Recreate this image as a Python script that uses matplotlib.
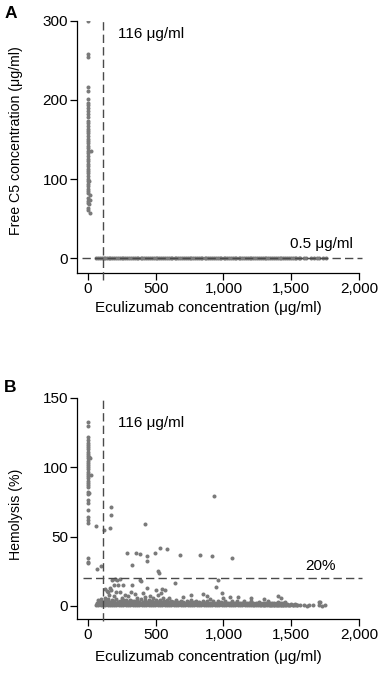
import matplotlib
matplotlib.use("Agg")
import matplotlib.pyplot as plt

plt.rcParams['font.family'] = ['Liberation Sans', 'DejaVu Sans']

# ---------------- data ----------------
# Panel A: free C5 vs eculizumab
a_col_x = [0, 0, 0, 0, 0, 0, 0, 0, 0, 0, 0, 0, 0, 0, 0, 0, 0, 0, 0, 0, 0, 0, 0, 0,
           0, 0, 0, 0, 0, 0, 0, 0, 0, 0, 0, 0, 0, 0, 0, 0, 0, 0, 0, 0, 0, 0, 0,
           22, 12, 18, 8, 20, 14]
a_col_y = [300, 257.8, 253.6, 216.5, 211.4, 200.8, 196.6, 193.2, 190.3, 186.1, 181.9,
           178.9, 173.4, 170.5, 167.1, 163.7, 160.8, 157.8, 154.4, 151.1, 148.1, 145.1,
           141.8, 138.8, 135.4, 132.5, 129.1, 125.7, 122.8, 119.8, 116.5, 113.1, 110.1,
           107.2, 103.8, 100.4, 97.5, 94.5, 91.1, 88.2, 84.8, 82.7, 76.4, 72.2, 63.7,
           60.8, 70.5,
           136, 98, 80, 69, 57.4, 74]
a_band_x = [60, 74, 91, 104, 119, 131, 143, 156, 167, 182, 194, 209, 221, 235, 251, 263,
            276, 291, 304, 319, 332, 347, 361, 373, 389, 400, 416, 429, 445, 456, 471,
            485, 501, 511, 528, 539, 557, 569, 584, 596, 611, 624, 641, 651, 668, 679,
            695, 707, 723, 735, 751, 762, 779, 789, 806, 819, 834, 845, 861, 874, 889,
            901, 916, 929, 945, 956, 973, 984, 1001, 1012, 1028, 1040, 1056, 1067, 1083,
            1095, 1111, 1123, 1138, 1149, 1166, 1177, 1193, 1205, 1221, 1232, 1248, 1260,
            1276, 1289, 1303, 1315, 1331, 1343, 1359, 1371, 1386, 1399, 1414, 1426, 1442,
            1454, 1471, 1482, 1498, 1509, 1525, 1537, 1553, 1566, 1592, 1611, 1641, 1664,
            1688, 1706, 1731, 1757]
a_band_y = [0.2, 0.1, 0.3, 0.2, 0.1, 0.3, 0.2, 0.2, 0.1, 0.3, 0.2, 0.1, 0.2, 0.3, 0.2,
            0.1, 0.2, 0.3, 0.1, 0.2, 0.2, 0.3, 0.1, 0.2, 0.2, 0.1, 0.3, 0.2, 0.1, 0.2,
            0.3, 0.2, 0.1, 0.2, 0.3, 0.2, 0.1, 0.2, 0.2, 0.3, 0.1, 0.2, 0.2, 0.1, 0.3,
            0.2, 0.1, 0.2, 0.3, 0.2, 0.2, 0.1, 0.3, 0.2, 0.1, 0.2, 0.2, 0.3, 0.1, 0.2,
            0.2, 0.1, 0.3, 0.2, 0.1, 0.2, 0.3, 0.2, 0.1, 0.2, 0.2, 0.3, 0.1, 0.2, 0.2,
            0.1, 0.3, 0.2, 0.1, 0.2, 0.3, 0.2, 0.1, 0.2, 0.2, 0.3, 0.1, 0.2, 0.2, 0.1,
            0.3, 0.2, 0.1, 0.2, 0.3, 0.2, 0.1, 0.2, 0.2, 0.3, 0.1, 0.2, 0.2, 0.1, 0.3,
            0.2, 0.1, 0.2, 0.3, 0.2, 0.2, 0.1, 0.3, 0.2, 0.1, 0.2, 0.2, 0.3]

# Panel B: hemolysis vs eculizumab
b_col_x = [0, 0, 0, 0, 0, 0, 0, 0, 0, 0, 0, 0, 0, 0, 0, 0, 0, 0, 0, 0, 0, 0, 0, 0, 0,
           0, 0, 0, 0, 0, 0, 0, 0, 0, 0, 12, 18, 24, 10, 2]
b_col_y = [132.7, 129.8, 121.4, 119.5, 117.6, 115.9, 114.2, 112.8, 111.1, 109.4, 108.0,
           106.3, 104.6, 103.2, 101.5, 99.8, 98.4, 96.7, 95.0, 93.6, 91.9, 90.2, 88.8,
           87.1, 85.4, 82.3, 80.6, 76.3, 73.9, 69.1, 64.3, 61.9, 60.0, 34.3, 30.7,
           107.5, 106.5, 94.0, 81.0, 32.0]
b_out_x = [63, 120, 167, 174, 174, 420, 932, 71, 95, 289, 326, 358, 382, 439, 437, 493,
           530, 586, 677, 518, 525, 827, 918, 1065]
b_out_y = [57.8, 54.7, 56.4, 71.5, 65.5, 58.8, 79.4, 26.6, 28.9, 37.9, 29.4, 37.9, 37.2,
           36.2, 32.4, 37.9, 41.5, 41.0, 36.7, 25.2, 23.5, 36.7, 36.0, 34.9]
b_scat_x = [174, 150, 235, 322, 506, 543, 567, 203, 235, 222, 328, 439, 390, 384, 640,
            947, 962, 987, 1404, 1049, 1105, 852, 876, 182, 195, 216, 260, 140, 160, 190,
            250, 275, 300, 360, 420, 460, 520, 555, 600, 700, 760, 1200, 1420, 1700, 1710,
            130, 125, 165, 210, 550, 480, 410, 345, 1300, 1000, 900]
b_scat_y = [11.5, 9.8, 9.8, 9.8, 11.5, 9.1, 11.5, 19.6, 19.6, 15.1, 15.1, 13.2, 17.9,
            18.7, 16.3, 13.9, 18.7, 9.1, 7.4, 6.2, 6.7, 8.6, 7.2, 19.0, 15.0, 19.0, 15.0,
            11.0, 8.0, 7.0, 6.0, 8.0, 7.0, 6.0, 6.5, 7.0, 8.0, 6.0, 6.0, 6.5, 8.0, 6.0,
            5.5, 3.0, 2.5, 12.0, 6.0, 13.0, 10.0, 12.0, 5.5, 9.0, 8.5, 5.0, 5.5, 5.0]
b_band_x = [62, 78, 95, 112, 128, 146, 161, 179, 196, 212, 229, 247, 263, 280, 297, 313,
            331, 348, 364, 381, 398, 414, 432, 449, 465, 482, 499, 515, 533, 550, 566,
            583, 600, 616, 634, 651, 667, 684, 701, 717, 735, 752, 768, 785, 802, 818,
            836, 853, 869, 886, 903, 919, 937, 954, 970, 987, 1004, 1020, 1038, 1055,
            1071, 1088, 1105, 1121, 1139, 1156, 1172, 1189, 1206, 1222, 1240, 1257, 1273,
            1290, 1307, 1323, 1341, 1358, 1374, 1391, 1408, 1424, 1442, 1459, 1475, 1492,
            1509, 1525, 1543, 1560, 1590, 1612, 1630, 1662, 1700, 1722, 1748,
            70, 88, 104, 121, 138, 154, 171, 188, 204, 221, 238, 255, 271, 288, 305, 322,
            339, 356, 372, 389, 406, 423, 440, 457, 473, 490, 507, 524, 541, 558, 575,
            592, 609, 626, 643, 660, 677, 694, 711, 728, 745, 762, 779, 796, 813, 830,
            847, 864, 881, 898, 915, 932, 949, 966, 983, 1000, 1017, 1034, 1051, 1068,
            1085, 1102, 1119, 1136, 1153, 1170, 1187, 1204, 1221, 1238, 1255, 1272, 1289,
            1306, 1323, 1340, 1357, 1374, 1391, 1408, 1425, 1442, 1470, 1500, 1530,
            75, 100, 125, 150, 180, 205, 235, 260, 285, 310, 340, 365, 395, 420, 450, 475,
            505, 530, 560, 585, 615, 650, 690, 730, 760, 800, 850, 880, 920, 960, 1010,
            1060, 1100, 1150, 1200, 1260, 1330, 1400, 1450,
            66, 84, 99, 116, 133, 150, 166, 183, 200, 216, 233, 251, 267, 284, 301, 318,
            334, 352, 368, 385, 402, 419, 436, 453, 469, 486, 503, 520, 537, 554, 571,
            588, 605, 622, 639, 656, 673, 690, 707, 724, 741, 758, 775, 792, 809, 826,
            843, 860, 877, 894, 911, 928, 945, 962, 979, 996, 1013, 1030, 1047, 1064,
            1081, 1098, 1115, 1132, 1149, 1166, 1183, 1200, 1217, 1234, 1251, 1268,
            1285, 1302, 1319, 1336, 1353, 1370, 1387, 1404, 1421, 1438, 1455, 1485, 1515,
            1545,
            90, 115, 140, 165, 195, 220, 245, 272, 298, 325, 352, 378, 405, 432, 460, 490,
            515, 545, 575, 600, 630, 660, 700, 740, 780, 820]
b_band_y = [0.6, 0.4, 0.8, 0.5, 0.7, 0.4, 0.6, 0.9, 0.5, 0.7, 0.4, 0.6, 0.8, 0.5, 0.6,
            0.4, 0.7, 0.5, 0.8, 0.6, 0.4, 0.7, 0.5, 0.6, 0.8, 0.4, 0.6, 0.7, 0.5, 0.4,
            0.6, 0.8, 0.5, 0.7, 0.4, 0.6, 0.5, 0.7, 0.4, 0.6, 0.8, 0.5, 0.6, 0.4, 0.7,
            0.5, 0.6, 0.8, 0.4, 0.6, 0.5, 0.7, 0.4, 0.6, 0.5, 0.8, 0.4, 0.6, 0.5, 0.7,
            0.4, 0.6, 0.5, 0.7, 0.4, 0.6, 0.5, 0.4, 0.6, 0.5, 0.7, 0.4, 0.5, 0.6, 0.4,
            0.5, 0.7, 0.4, 0.6, 0.5, 0.4, 0.6, 0.5, 0.4, 0.6, 0.5, 0.4, 0.5, 0.6, 0.4,
            0.5, 0.3, 0.6, 0.4, 0.5, 0.3, 0.4,
            2.2, 2.6, 1.9, 2.4, 2.8, 2.1, 2.5, 2.9, 2.3, 2.7, 2.0, 2.4, 2.8, 2.2, 2.6,
            1.9, 2.5, 2.3, 2.7, 2.1, 2.4, 2.8, 2.2, 2.6, 2.0, 2.4, 2.9, 2.5, 2.2, 2.7,
            2.1, 2.4, 2.2, 2.6, 2.0, 2.3, 2.5, 2.1, 2.4, 2.2, 2.0, 2.6, 2.3, 2.1, 2.4,
            2.2, 2.5, 2.0, 2.3, 2.1, 2.4, 2.2, 2.0, 2.3, 2.5, 2.1, 2.2, 2.0, 2.4, 2.1,
            2.2, 1.9, 2.3, 2.1, 2.0, 2.2, 1.9, 2.1, 2.0, 2.2, 1.8, 2.0, 2.1, 1.9, 2.0,
            1.8, 2.0, 1.9, 1.8, 2.0, 1.9, 1.8, 1.6, 1.5, 1.4,
            4.2, 4.8, 3.9, 5.0, 4.4, 4.7, 3.8, 4.5, 4.1, 4.6, 3.9, 4.3, 4.8, 4.0, 4.4,
            3.8, 4.5, 4.2, 3.9, 4.1, 3.8, 4.0, 3.7, 3.9, 4.2, 3.6, 3.8, 3.5, 3.7, 3.4,
            3.6, 3.4, 3.6, 3.3, 3.5, 3.2, 3.4, 3.1, 3.0,
            1.3, 1.5, 1.2, 1.4, 1.6, 1.3, 1.5, 1.2, 1.4, 1.6, 1.3, 1.5, 1.2, 1.4, 1.3,
            1.5, 1.2, 1.4, 1.6, 1.3, 1.5, 1.2, 1.4, 1.3, 1.5, 1.2, 1.4, 1.6, 1.3, 1.5,
            1.2, 1.4, 1.3, 1.5, 1.2, 1.4, 1.3, 1.5, 1.2, 1.4, 1.3, 1.2, 1.4, 1.3, 1.5,
            1.2, 1.4, 1.3, 1.2, 1.4, 1.3, 1.2, 1.4, 1.3, 1.2, 1.4, 1.3, 1.2, 1.3, 1.2,
            1.3, 1.2, 1.1, 1.3, 1.2, 1.1, 1.2, 1.1, 1.0, 1.2, 1.1, 1.0, 1.1, 1.0, 1.1,
            1.0, 0.9, 1.0, 0.9, 1.0, 0.9, 0.8, 0.9, 0.8, 0.8, 0.7,
            3.2, 3.0, 3.4, 3.1, 3.3, 3.0, 3.2, 3.4, 3.0, 3.3, 3.1, 2.9, 3.2, 3.0, 3.3,
            3.1, 2.9, 3.2, 3.0, 2.8, 3.1, 2.9, 2.8, 3.0, 2.7, 2.8]

# thresholds
ecu_threshold = 116
c5_threshold = 0.5
hemo_threshold = 20

a_xticks = [0, 500, 1000, 1500, 2000]
a_xticklabels = ['0', '500', '1,000', '1,500', '2,000']
a_yticks = [0, 100, 200, 300]
b_yticks = [0, 50, 100, 150]

# ---------------- figure ----------------
fig = plt.figure(figsize=(3.83, 6.73), dpi=100)
axA = fig.add_axes([0.201, 0.5948, 0.737, 0.3744])
axB = fig.add_axes([0.201, 0.0798, 0.737, 0.3293])

pt_color = '#7a7a7a'
line_color = '#4a4a4a'
ms = 2.9
fs = 11
fs_y = 10.2


def style(ax):
    for s in ['top', 'right']:
        ax.spines[s].set_visible(False)
    for s in ['left', 'bottom']:
        ax.spines[s].set_linewidth(0.9)
    ax.tick_params(direction='out', length=5, width=0.9, labelsize=fs, pad=1.5,
                   colors='black')
    ax.set_xticks(a_xticks)
    ax.set_xticklabels(a_xticklabels)


# Panel A
axA.plot(a_col_x, a_col_y, 'o', ms=ms, mec='none', color=pt_color, zorder=2)
axA.plot(a_band_x, a_band_y, 'o', ms=ms, mec='none', color=pt_color, zorder=2)
axA.set_xlim(-79, 2000)
axA.set_ylim(-18, 300)
axA.plot([ecu_threshold, ecu_threshold], [-27, 300], ls=(0, (6, 3)), lw=1.0,
         color=line_color, clip_on=False, zorder=3)
axA.plot([-40, 2020], [c5_threshold, c5_threshold], ls=(0, (6, 3)), lw=1.0,
         color=line_color, clip_on=False, zorder=3)
axA.set_yticks(a_yticks)
style(axA)
axA.set_xlabel('Eculizumab concentration (μg/ml)', fontsize=fs)
axA.set_ylabel('Free C5 concentration (μg/ml)', fontsize=fs_y)
axA.xaxis.set_label_coords(0.466, -0.113)
axA.xaxis.label.set_va('top')
axA.yaxis.set_label_coords(-0.19, 0.523)
axA.text(223, 278, '116 μg/ml', fontsize=fs, ha='left', va='baseline')
axA.text(1490, 13, '0.5 μg/ml', fontsize=fs, ha='left', va='baseline')

# Panel B
axB.plot(b_band_x, b_band_y, 'o', ms=ms, mec='none', color=pt_color, zorder=2)
axB.plot(b_scat_x, b_scat_y, 'o', ms=ms, mec='none', color=pt_color, zorder=2)
axB.plot(b_out_x, b_out_y, 'o', ms=ms, mec='none', color=pt_color, zorder=2)
axB.plot(b_col_x, b_col_y, 'o', ms=ms, mec='none', color=pt_color, zorder=2)
axB.set_xlim(-79, 2000)
axB.set_ylim(-9.6, 150)
axB.plot([ecu_threshold, ecu_threshold], [-11, 150], ls=(0, (6, 3)), lw=1.0,
         color=line_color, clip_on=False, zorder=3)
axB.plot([-37, 2020], [hemo_threshold, hemo_threshold], ls=(0, (6, 3)), lw=1.0,
         color=line_color, clip_on=False, zorder=3)
axB.set_yticks(b_yticks)
style(axB)
axB.set_xlabel('Eculizumab concentration (μg/ml)', fontsize=fs)
axB.set_ylabel('Hemolysis (%)', fontsize=fs_y)
axB.xaxis.set_label_coords(0.466, -0.139)
axB.xaxis.label.set_va('top')
axB.yaxis.set_label_coords(-0.19, 0.475)
axB.text(223, 129, '116 μg/ml', fontsize=fs, ha='left', va='baseline')
axB.text(1605, 26, '20%', fontsize=fs, ha='left', va='baseline')

fig.text(0.011, 1 - 6 / 673, 'A', fontsize=12.5, fontweight='bold', ha='left', va='top')
fig.text(0.011, 1 - 380 / 673, 'B', fontsize=12.5, fontweight='bold', ha='left', va='top')

fig.savefig('out.png', dpi=100)
